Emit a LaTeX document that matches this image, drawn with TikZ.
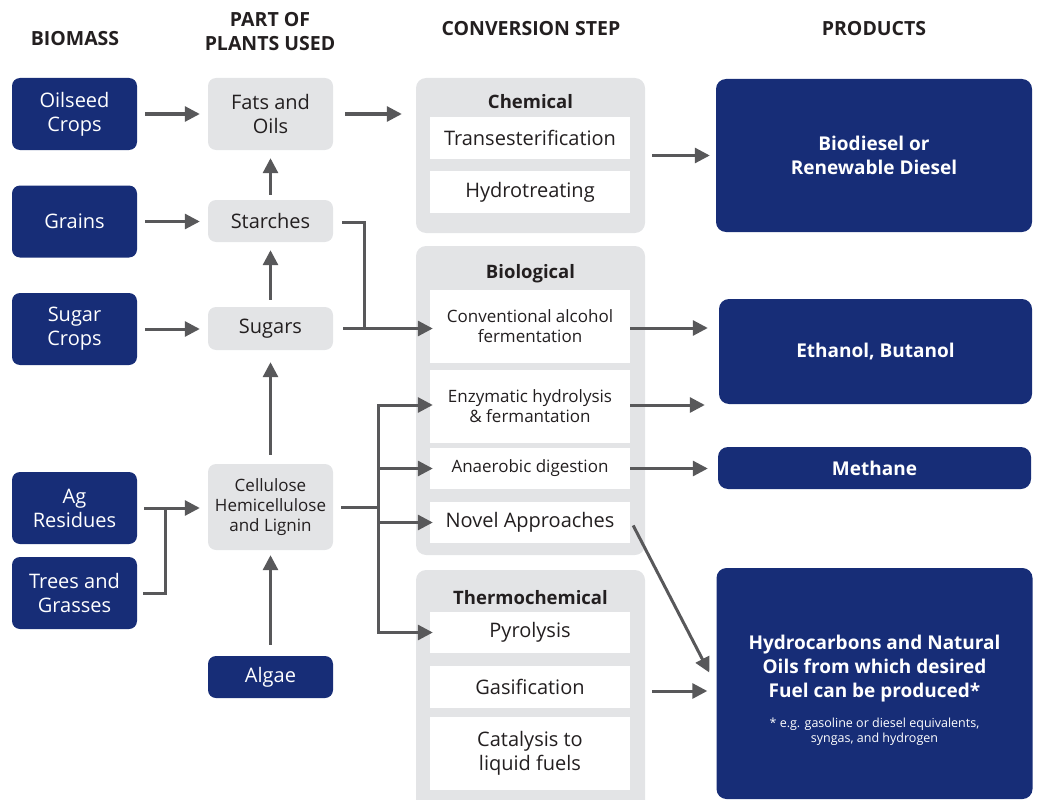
\documentclass[tikz,border=0pt]{standalone}
\usepackage{fontspec}
\setmainfont{Open Sans}
\usetikzlibrary{arrows.meta}
\definecolor{navy}{RGB}{23,45,119}
\definecolor{lgrey}{RGB}{227,228,230}
\definecolor{agrey}{RGB}{88,88,90}
\definecolor{txt}{RGB}{35,31,32}
\begin{document}
\begin{tikzpicture}[x=1pt,y=-1pt,
  bio/.style={fill=navy, text=white, rounded corners=8pt, align=center, inner sep=0pt, minimum width=125pt, font=\fontsize{20}{24}\selectfont},
  part/.style={fill=lgrey, text=txt, rounded corners=8pt, align=center, inner sep=0pt, minimum width=125pt, font=\fontsize{20}{24}\selectfont},
  grp/.style={fill=lgrey, rounded corners=10pt, inner sep=0pt, minimum width=229pt},
  gtitle/.style={text=txt, font=\bfseries\fontsize{18.5}{22}\selectfont, inner sep=0pt},
  wbox/.style={fill=white, text=txt, minimum width=200pt, inner sep=0pt, align=center, font=\fontsize{20}{24}\selectfont},
  small/.style={font=\fontsize{17}{20}\selectfont},
  prod/.style={fill=navy, text=white, rounded corners=10pt, inner sep=0pt, align=center, font=\bfseries\fontsize{19}{24}\selectfont},
  hdr/.style={text=txt, font=\bfseries\fontsize{19.5}{24}\selectfont, align=center, inner sep=0pt},
  ln/.style={draw=agrey, line width=3pt},
  arr/.style={ln, -{Triangle[length=15pt,width=15pt]}},
]
\useasboundingbox (0,0) rectangle (1037,800);

% headers
\node[hdr] (h1) at (75,39) {BIOMASS};
\node[hdr] (h2) at (270,32) {PART OF\\PLANTS USED};
\node[hdr] (h3) at (531,29) {CONVERSION STEP};
\node[hdr] (h4) at (874,29) {PRODUCTS};

% biomass
\node[bio, minimum height=72pt] (oil) at (74.5,114) {Oilseed\\Crops};
\node[bio, minimum height=72pt] (grains) at (74.5,221.5) {Grains};
\node[bio, minimum height=72pt] (sugc) at (74.5,329) {Sugar\\Crops};
\node[bio, minimum height=72pt] (ag) at (74.5,508) {Ag\\Residues};
\node[bio, minimum height=72pt] (trees) at (74.5,593) {Trees and\\Grasses};
\node[bio, minimum height=42pt] (algae) at (270.5,677) {Algae};

% parts
\node[part, minimum height=72pt] (fats) at (270.5,114) {Fats and\\Oils};
\node[part, minimum height=42pt] (starch) at (270.5,221) {Starches};
\node[part, minimum height=43pt] (sugars) at (270.5,328.5) {Sugars};
\node[part, small, minimum height=86pt] (cell) at (270.5,507) {Cellulose\\Hemicellulose\\and Lignin};

% groups
\node[grp, minimum height=155pt] (chem) at (530.5,155.5) {};
\node[grp, minimum height=309pt] (biol) at (530.5,400.5) {};
\node[grp, minimum height=244pt] (thermo) at (530.5,692) {};
\node[gtitle] (chemt) at (530.5,102) {Chemical};
\node[gtitle] (biolt) at (530.5,274) {Biological};
\node[gtitle] (thermot) at (530.5,598) {Thermochemical};

% white boxes
\node[wbox, minimum height=42pt] (trans) at (530,138) {Transesterification};
\node[wbox, minimum height=42pt] (hydrot) at (530,192) {Hydrotreating};
\node[wbox, small, minimum height=73pt] (conv) at (530,326.5) {Conventional alcohol\\fermentation};
\node[wbox, small, minimum height=73pt] (enz) at (530,406.5) {Enzymatic hydrolysis\\\& fermantation};
\node[wbox, small, minimum height=41pt] (ana) at (530,468.5) {Anaerobic digestion};
\node[wbox, minimum height=41pt] (novel) at (530,522.5) {Novel Approaches};
\node[wbox, minimum height=41pt] (pyro) at (530,632.5) {Pyrolysis};
\node[wbox, minimum height=42pt] (gas) at (530,687) {Gasification};
\node[wbox, minimum height=73pt] (cat) at (530,753.5) {Catalysis to\\liquid fuels};

% products
\node[prod, minimum width=316pt, minimum height=153pt] (biod) at (874,155.5) {Biodiesel or\\Renewable Diesel};
\node[prod, minimum width=313pt, minimum height=105pt] (eth) at (875.5,351.5) {Ethanol, Butanol};
\node[prod, minimum width=313pt, minimum height=42pt] (meth) at (874.5,468) {Methane};
\node[prod, minimum width=316pt, minimum height=231pt] (hyd) at (874.5,683.5) {};
\node[prod, fill=none] (hydt) at (874.5,669) {Hydrocarbons and Natural\\Oils from which desired\\Fuel can be produced*};
\node[text=white, align=center, inner sep=0pt, font=\fontsize{12.5}{15}\selectfont] (hydn) at (874.5,731.5) {* e.g. gasoline or diesel equivalents,\\syngas, and hydrogen};

% left arrows
\draw[arr, shorten <=8pt, shorten >=8pt] (oil.east) -- (oil.east -| fats.west);
\draw[arr, shorten <=12pt, shorten >=14pt] (fats.east) -- (fats.east -| chem.west);
\draw[arr, shorten <=8pt, shorten >=8pt] (grains.east) -- (grains.east -| starch.west);
\draw[arr, shorten <=8pt, shorten >=8pt] (sugc.east) -- (sugc.east -| sugars.west);
\draw[arr, shorten <=7pt, shorten >=8pt] (ag.east) -- (ag.east -| cell.west);
\coordinate (j1) at (165,508);
\draw[ln] ([shift={(6,0)}]trees.east) -| (j1);

% vertical arrows
\draw[arr, shorten <=5pt, shorten >=8pt] (starch.north) -- (fats.south);
\draw[arr, shorten <=7pt, shorten >=8pt] (sugars.north) -- (starch.south);
\draw[arr, shorten <=9pt, shorten >=12pt] (cell.north) -- (sugars.south);
\draw[arr, shorten <=11pt, shorten >=5pt] (algae.north) -- (cell.south);

% starches/sugars to fermentation
\coordinate (j2) at (364,328);
\draw[ln] ([shift={(9,1)}]starch.east) -| (j2);
\draw[arr, shorten <=10pt, shorten >=-3pt] (sugars.east) -- (sugars.east -| conv.west);

% cellulose branches
\coordinate (j3) at (378,507);
\draw[ln] ([shift={(8,0)}]cell.east) -- (j3);
\draw[ln, line cap=rect] ([shift={(0,-1.5)}]j3 |- enz.west) -- (j3 |- pyro.west);
\draw[arr, shorten >=-3pt] ([shift={(0,-1.5)}]j3 |- enz.west) -- ([shift={(0,-1.5)}]enz.west);
\draw[arr, shorten >=-3pt] (j3 |- ana.west) -- (ana.west);
\draw[arr, shorten >=-3pt] (j3 |- novel.west) -- (novel.west);
\draw[arr, shorten >=-3pt] (j3 |- pyro.west) -- (pyro.west);

% right arrows
\draw[arr, shorten <=7pt, shorten >=6pt] (chem.east) -- (chem.east -| biod.west);
\draw[arr, shorten >=11pt] ([shift={(0,1.5)}]conv.east) -- ([shift={(0,1.5)}]conv.east -| eth.west);
\draw[arr, shorten >=14pt] ([shift={(0,-1.5)}]enz.east) -- ([shift={(0,-1.5)}]enz.east -| eth.west);
\draw[arr, shorten >=10pt] (ana.east) -- (ana.east -| meth.west);
\draw[arr] ([shift={(3,3)}]novel.east) -- ([shift={(-7,-11)}]hyd.west);
\coordinate (g1) at ([shift={(22,4)}]gas.east);
\draw[arr, shorten >=9pt] (g1) -- (g1 -| hyd.west);
\end{tikzpicture}
\end{document}
